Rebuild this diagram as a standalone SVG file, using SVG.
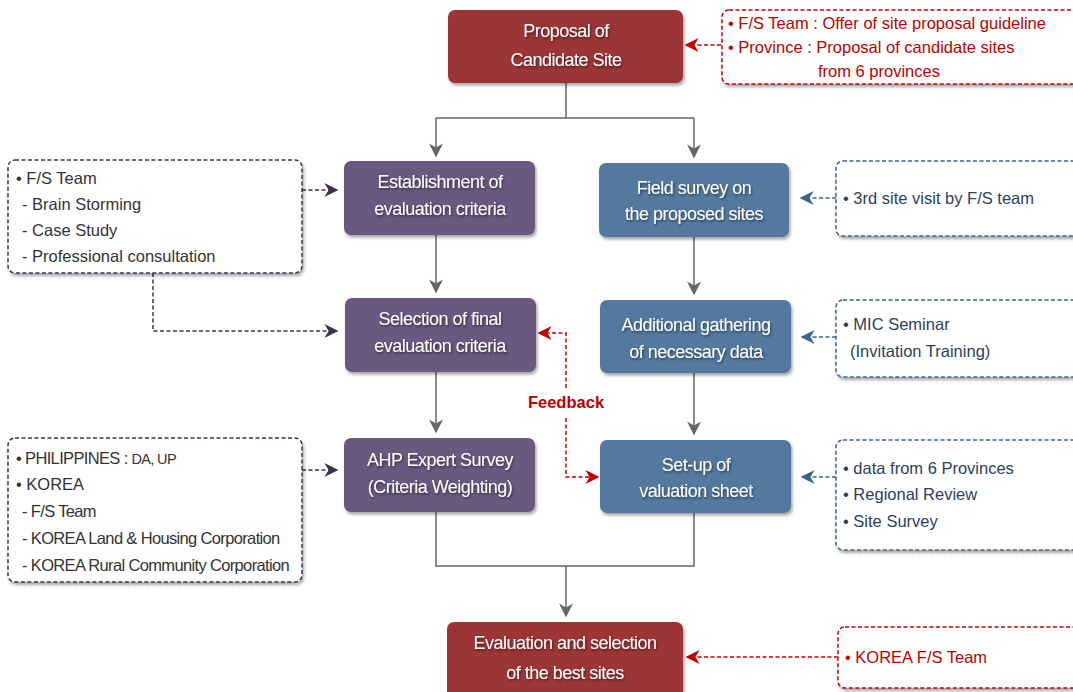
<svg xmlns="http://www.w3.org/2000/svg" width="1073" height="692" viewBox="0 0 1073 692">
<style>
.red{fill:#9c3535;filter:url(#sh)}
.pur{fill:#6b5880;filter:url(#sh)}
.blu{fill:#53799f;filter:url(#sh)}
.bt{font-family:"Liberation Sans Narrow","Liberation Sans",sans-serif;font-size:18px;fill:#fff;text-anchor:middle;letter-spacing:-0.5px;filter:url(#ts)}
.note{fill:#fff;stroke-width:1.5;stroke-dasharray:4 2.5;filter:url(#sh)}
.nr{stroke:#c00000}.np{stroke:#3f3352}.nb{stroke:#3c6490}
.at{font-family:"Liberation Sans Narrow","Liberation Sans",sans-serif;font-size:16.5px}
.tr{fill:#c00000}.tp{fill:#333}.tb{fill:#2b3f5c}
.cn{letter-spacing:-0.65px}
.ln{fill:none;stroke:#666;stroke-width:1.5}
.dr{fill:none;stroke:#c00000;stroke-width:1.5;stroke-dasharray:4 2.5}
.dp{fill:none;stroke:#3f3352;stroke-width:1.5;stroke-dasharray:4 2.5}
.db{fill:none;stroke:#3c6490;stroke-width:1.5;stroke-dasharray:4 2.5}
</style>
<defs>
<filter id="sh" x="-10%" y="-10%" width="125%" height="130%"><feDropShadow dx="1.5" dy="2.5" stdDeviation="1.5" flood-color="#000" flood-opacity="0.35"/></filter>
<filter id="ts" x="-5%" y="-20%" width="110%" height="150%"><feDropShadow dx="1" dy="1.5" stdDeviation="1" flood-color="#000" flood-opacity="0.5"/></filter>
<marker id="ag" viewBox="0 0 10 10" refX="9" refY="5" markerWidth="14" markerHeight="14" markerUnits="userSpaceOnUse" orient="auto"><path d="M0,0 L10,5 L0,10 L3,5 Z" fill="#666"/></marker>
<marker id="ar" viewBox="0 0 10 10" refX="9" refY="5" markerWidth="14" markerHeight="14" markerUnits="userSpaceOnUse" orient="auto"><path d="M0,0 L10,5 L0,10 L3,5 Z" fill="#c00000"/></marker>
<marker id="ap" viewBox="0 0 10 10" refX="9" refY="5" markerWidth="14" markerHeight="14" markerUnits="userSpaceOnUse" orient="auto"><path d="M0,0 L10,5 L0,10 L3,5 Z" fill="#3f3352"/></marker>
<marker id="ab" viewBox="0 0 10 10" refX="9" refY="5" markerWidth="14" markerHeight="14" markerUnits="userSpaceOnUse" orient="auto"><path d="M0,0 L10,5 L0,10 L3,5 Z" fill="#3c6490"/></marker>
</defs>
<rect width="1073" height="692" fill="#fff"/>

<g id="connectors">
<path class="ln" d="M566,83 V118 M436,118 H694"/>
<path class="ln" d="M436,118 V156" marker-end="url(#ag)"/>
<path class="ln" d="M694,118 V157" marker-end="url(#ag)"/>
<path class="ln" d="M436,235 V292" marker-end="url(#ag)"/>
<path class="ln" d="M694,237 V294" marker-end="url(#ag)"/>
<path class="ln" d="M436,372 V432" marker-end="url(#ag)"/>
<path class="ln" d="M694,373 V434" marker-end="url(#ag)"/>
<path class="ln" d="M436,512 V566 H694 V513"/>
<path class="ln" d="M566,566 V616" marker-end="url(#ag)"/>
<path class="dr" d="M721,45 H686" marker-end="url(#ar)"/>
<path class="dr" d="M838,657 H687" marker-end="url(#ar)"/>
<path class="dr" d="M566,388 V333 H539" marker-end="url(#ar)"/>
<path class="dr" d="M566,418 V477 H598" marker-end="url(#ar)"/>
<path class="dp" d="M302,190 H337" marker-end="url(#ap)"/>
<path class="dp" d="M153,273 V331 H337" marker-end="url(#ap)"/>
<path class="dp" d="M302,470 H337" marker-end="url(#ap)"/>
<path class="db" d="M836,198 H801" marker-end="url(#ab)"/>
<path class="db" d="M836,337 H802" marker-end="url(#ab)"/>
<path class="db" d="M836,477 H802" marker-end="url(#ab)"/>
<text x="566" y="408" class="at tr" text-anchor="middle" font-weight="bold" font-size="16">Feedback</text>
</g>

<g id="proposal"><rect class="red" x="448" y="10" width="235" height="73" rx="7"/>
<text class="bt" x="566" y="37">Proposal of</text><text class="bt" x="566" y="66">Candidate Site</text></g>

<g id="note-proposal"><rect class="note nr" x="722" y="10" width="360" height="74" rx="7"/>
<text class="at tr" x="728" y="29">• F/S Team : Offer of site proposal guideline</text>
<text class="at tr" x="728" y="53">• Province  : Proposal of candidate sites</text>
<text class="at tr" x="818" y="77">from 6 provinces</text></g>

<g id="establishment"><rect class="pur" x="344" y="161" width="191" height="74" rx="7"/>
<text class="bt" x="440" y="188">Establishment of</text><text class="bt" x="440" y="215">evaluation criteria</text></g>

<g id="selection"><rect class="pur" x="345" y="298" width="191" height="74" rx="7"/>
<text class="bt" x="440" y="325">Selection of final</text><text class="bt" x="440" y="352">evaluation criteria</text></g>

<g id="ahp"><rect class="pur" x="344" y="438" width="191" height="74" rx="7"/>
<text class="bt" x="440" y="466">AHP Expert Survey</text><text class="bt" x="440" y="493">(Criteria Weighting)</text></g>

<g id="field"><rect class="blu" x="599" y="163" width="190" height="74" rx="7"/>
<text class="bt" x="694" y="194">Field survey on</text><text class="bt" x="694" y="220">the proposed sites</text></g>

<g id="additional"><rect class="blu" x="600" y="300" width="191" height="73" rx="7"/>
<text class="bt" x="696" y="331">Additional gathering</text><text class="bt" x="696" y="358">of necessary data</text></g>

<g id="setup"><rect class="blu" x="600" y="440" width="191" height="73" rx="7"/>
<text class="bt" x="696" y="471">Set-up of</text><text class="bt" x="696" y="497">valuation sheet</text></g>

<g id="evaluation"><rect class="red" x="447" y="622" width="236" height="80" rx="7"/>
<text class="bt" x="565" y="649">Evaluation and selection</text><text class="bt" x="565" y="679">of the best sites</text></g>

<g id="note-fs"><rect class="note np" x="8" y="160" width="294" height="113" rx="7"/>
<text class="at tp" x="16" y="184">• F/S Team</text>
<text class="at tp" x="22" y="210">- Brain Storming</text>
<text class="at tp" x="22" y="236">- Case Study</text>
<text class="at tp" x="22" y="262">- Professional consultation</text></g>

<g id="note-experts"><rect class="note np" x="8" y="438" width="294" height="144" rx="7"/>
<text class="at tp cn" x="16" y="464">• PHILIPPINES : <tspan font-size="14.5">DA, UP</tspan></text>
<text class="at tp" x="16" y="490">• KOREA</text>
<text class="at tp cn" x="22" y="517">- F/S Team</text>
<text class="at tp cn" x="22" y="544">- KOREA Land &amp; Housing Corporation</text>
<text class="at tp cn" x="22" y="571">- KOREA Rural Community Corporation</text></g>

<g id="note-visit"><rect class="note nb" x="836" y="161" width="250" height="75" rx="7"/>
<text class="at tb" x="843" y="204">• 3rd site visit by F/S team</text></g>

<g id="note-seminar"><rect class="note nb" x="836" y="300" width="250" height="77" rx="7"/>
<text class="at tb" x="843" y="330">• MIC Seminar</text>
<text class="at tb" x="850" y="357">(Invitation  Training)</text></g>

<g id="note-data"><rect class="note nb" x="836" y="440" width="250" height="110" rx="7"/>
<text class="at tb" x="843" y="474">• data from 6 Provinces</text>
<text class="at tb" x="843" y="500">• Regional Review</text>
<text class="at tb" x="843" y="527">• Site Survey</text></g>

<g id="note-korea"><rect class="note nr" x="838" y="627" width="250" height="61" rx="7"/>
<text class="at tr" x="845" y="663">• KOREA F/S Team</text></g>
</svg>
